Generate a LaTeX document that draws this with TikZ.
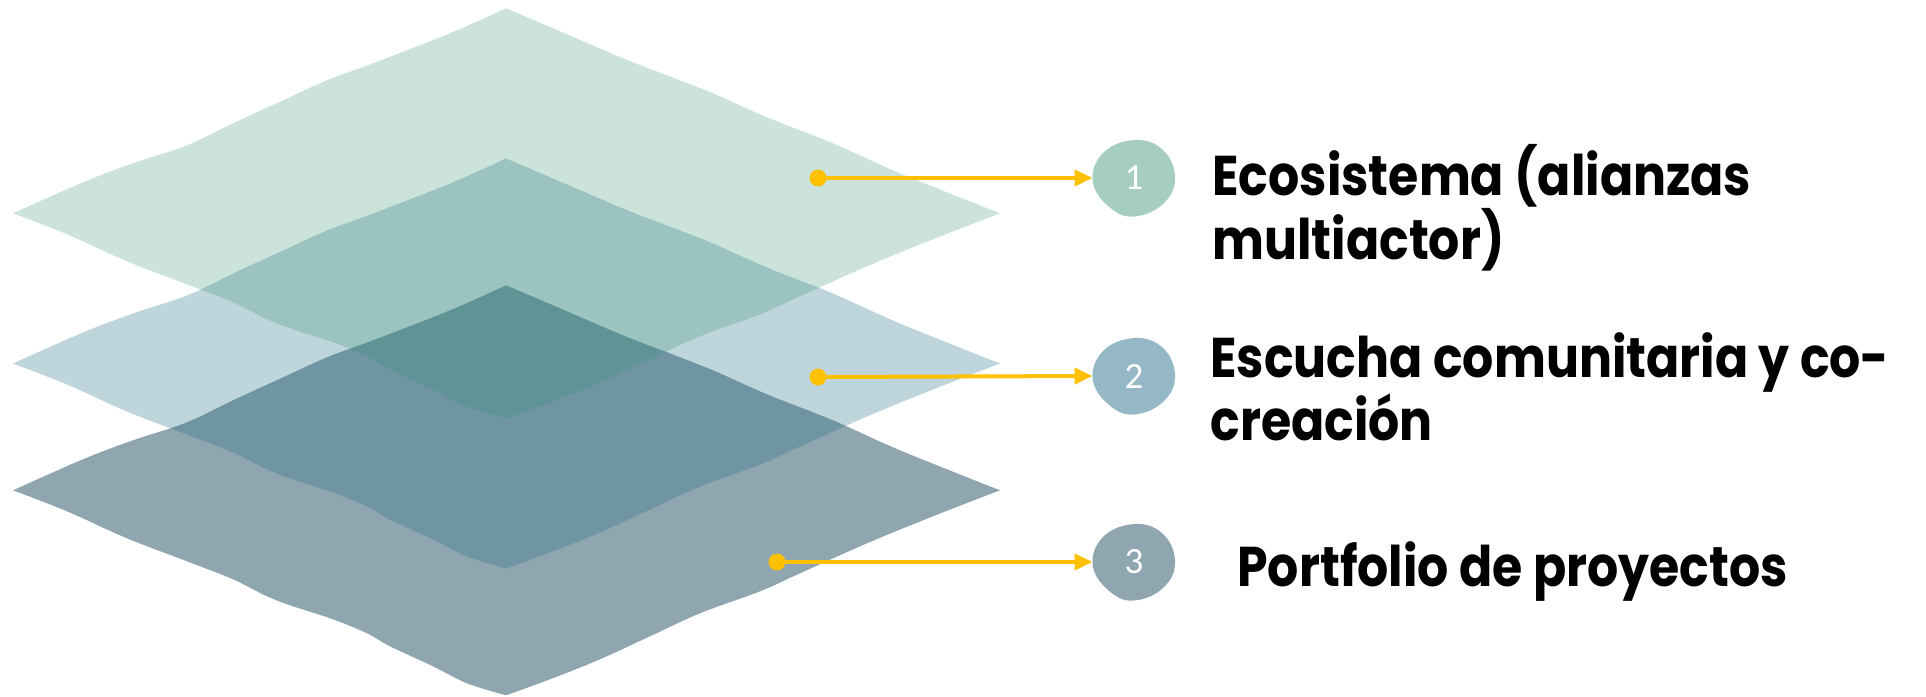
\documentclass[tikz,border=0pt]{standalone}
\usepackage{fontspec}
\newfontfamily\gothic{Poppins}
\newfontfamily\numfont{Carlito}
\usetikzlibrary{arrows.meta,shapes.geometric}
\definecolor{layA}{RGB}{48,144,112}
\definecolor{layB}{RGB}{34,110,134}
\definecolor{layC}{RGB}{143,165,175}
\definecolor{gold}{RGB}{255,192,0}
\definecolor{blobA}{RGB}{166,205,193}
\definecolor{blobB}{RGB}{149,184,198}
\definecolor{blobC}{RGB}{143,165,175}
\tikzset{
  dotmark/.style={circle,fill=gold,minimum size=8.5pt,inner sep=0pt},
  arr/.style={draw=gold,line width=2pt,-{Triangle[length=9pt,width=8pt]}},
  numnode/.style={ellipse,minimum width=41pt,minimum height=38pt,inner sep=0pt,text=white,font=\numfont\fontsize{18.5pt}{20pt}\selectfont},
  lbl/.style={inner sep=0pt,anchor=base west,font=\gothic\bfseries\fontsize{28pt}{27pt}\selectfont}
}
\newcommand\squeeze[1]{\scalebox{0.875}[1]{#1}}
\begin{document}
\begin{tikzpicture}[x=0.5pt,y=-0.5pt]
\useasboundingbox (0,0) rectangle (1926,696);
% layers
\foreach \cy/\col/\op in {490.3/layC/1, 363.5/layB/0.29, 213.3/layA/0.25}{
  \fill[\col, fill opacity=\op, shift={(506,\cy)}]
    plot[smooth,tension=0.6] coordinates {(-493,0) (-423,-31) (-373,-50) (-319,-68) (-273,-90) (-223,-113) (-179,-133) (-133,-150) (-56,-180) (0,-205)}
    -- plot[smooth,tension=0.6] coordinates {(0,-205) (47,-185) (117,-155) (161,-138) (207,-120) (261,-96) (327,-70) (394,-40) (494,0)}
    -- plot[smooth,tension=0.6] coordinates {(494,0) (427,26) (361,53) (294,83) (254,101) (194,123) (144,146) (94,169) (44,189) (0,205)}
    -- plot[smooth,tension=0.6] coordinates {(0,205) (-39,193) (-73,176) (-116,156) (-139,143) (-173,129) (-213,116) (-239,106) (-273,89) (-319,71) (-379,48) (-439,21) (-493,0)}
    -- cycle;
}
% blobs
\foreach \cy/\col in {178/blobA, 376/blobB, 562/blobC}{
  \fill[\col, shift={(1134,\cy)}] plot[smooth cycle,tension=0.7] coordinates {(1,-38) (29,-28) (41,-1) (31,24) (4,38) (-21,32) (-41,5) (-31,-25)};
}
\node[numnode] (n1) at (1134,178) {1};
\node[numnode] (n2) at (1134,376) {2};
\node[numnode] (n3) at (1134,562) {3};
\node[dotmark] (d1) at (818,178) {};
\node[dotmark] (d2) at (818,377) {};
\node[dotmark] (d3) at (777,562) {};
\draw[arr] (d1.center) -- (n1.west);
\draw[arr] (d2.center) -- (n2.west);
\draw[arr] (d3.center) -- (n3.west);
\node[lbl] (t1) at (1212,195) {\squeeze{\vtop{\hbox{Ecosistema (alianzas}\hbox{multiactor)}}}};
\node[lbl] (t2) at (1210,377) {\squeeze{\vtop{\hbox{Escucha comunitaria y co-}\hbox{creación}}}};
\node[lbl] (t3) at (1237,586) {\squeeze{Portfolio de proyectos}};
\end{tikzpicture}
\end{document}
